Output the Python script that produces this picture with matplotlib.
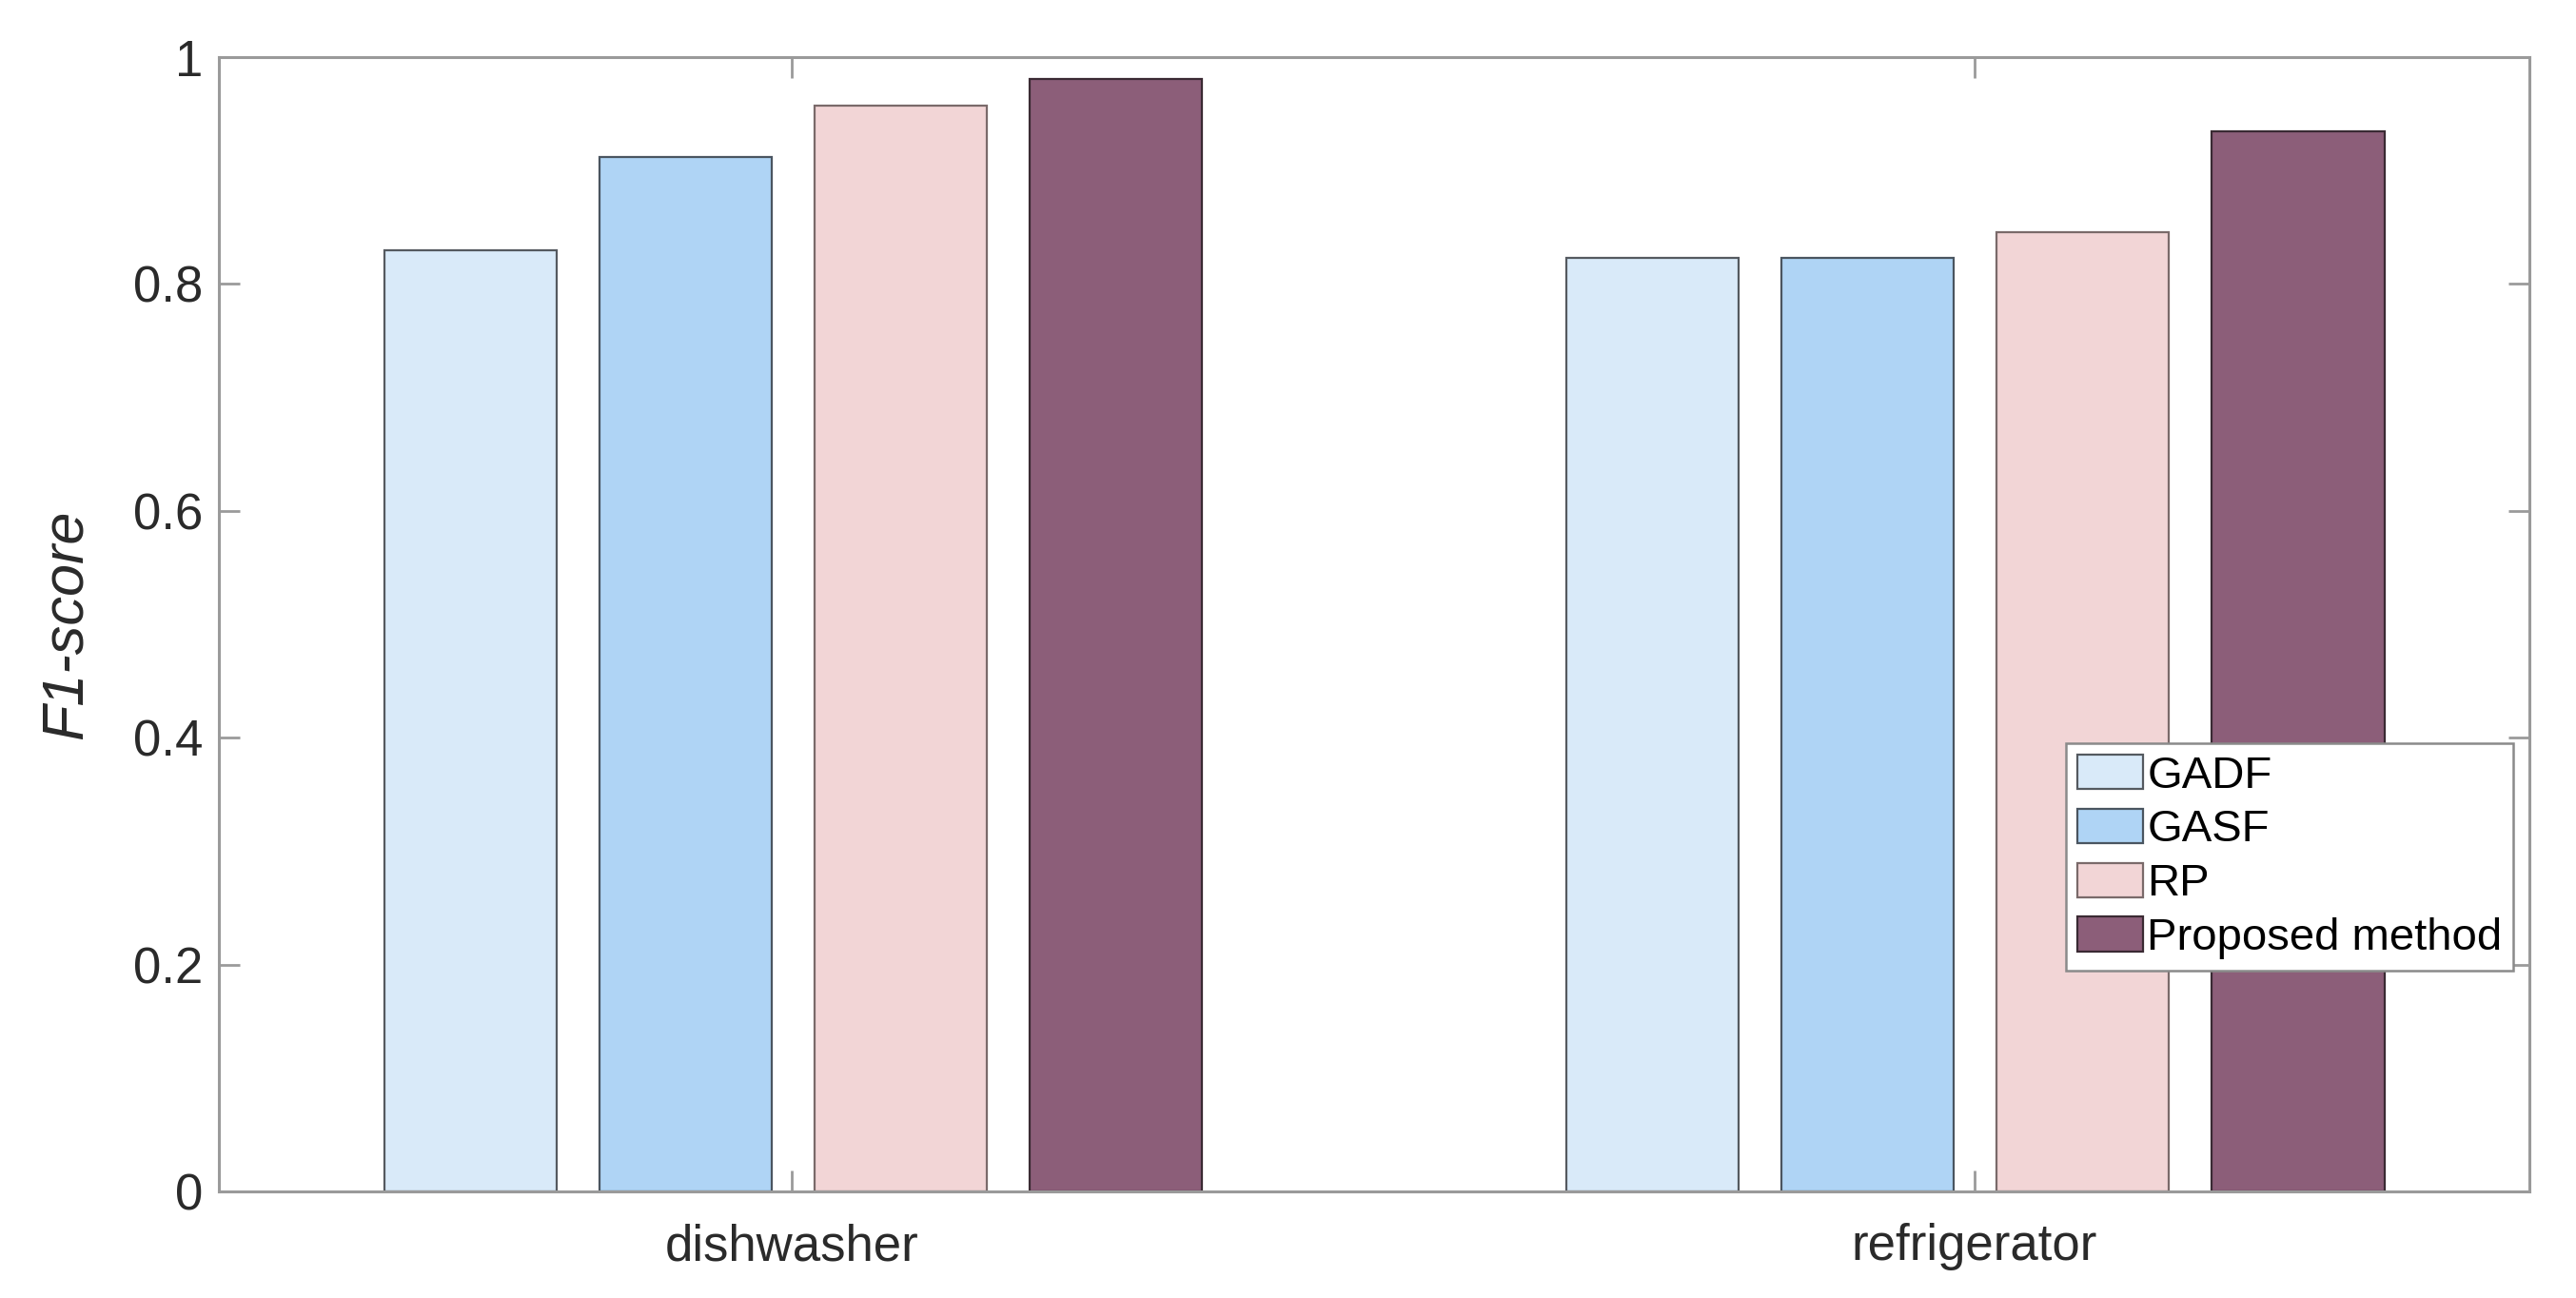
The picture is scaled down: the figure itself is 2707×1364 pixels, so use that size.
import numpy as np
import matplotlib.pyplot as plt

plt.rcParams["font.family"] = ["Liberation Sans", "DejaVu Sans"]

appliances = ["dishwasher", "refrigerator"]
methods = ["GADF", "GASF", "RP", "Proposed method"]
gadf = [0.830, 0.823]
gasf = [0.912, 0.823]
rp = [0.957, 0.846]
proposed = [0.981, 0.935]
yticks = [0, 0.2, 0.4, 0.6, 0.8, 1]
ytick_labels = ["0", "0.2", "0.4", "0.6", "0.8", "1"]

colors = ["#d9eaf9", "#afd4f5", "#f2d5d6", "#8c5e79"]
edges = ["#555a60", "#4a5560", "#7a6a6a", "#3a2a33"]

fig = plt.figure(figsize=(27.07, 13.64), dpi=100)
ax = fig.add_axes([0.085, 0.082, 0.897, 0.874])

x = np.arange(1, len(appliances) + 1)
offsets = [-0.272, -0.090, 0.092, 0.274]
width = 0.146
for vals, name, c, ec, off in zip([gadf, gasf, rp, proposed], methods, colors, edges, offsets):
    ax.bar(x + off, vals, width=width, color=c, edgecolor=ec, linewidth=1.6, label=name)

ax.set_xlim(0.515, 2.47)
ax.set_ylim(0, 1)
ax.set_xticks(x)
ax.set_xticklabels(appliances)
ax.set_yticks(yticks)
ax.set_yticklabels(ytick_labels)

axis_gray = "#9a9a9a"
for s in ax.spines.values():
    s.set_color(axis_gray)
    s.set_linewidth(2.2)
ax.tick_params(axis="both", direction="in", length=16, width=2, color=axis_gray,
               labelsize=38, labelcolor="#2a2a2a", top=True, right=True)
ax.tick_params(axis="x", pad=24)
ax.tick_params(axis="y", pad=12)

ax.set_ylabel("F1-score", fontsize=44, style="italic", color="#2a2a2a", labelpad=30)

leg = ax.legend(loc="lower left", bbox_to_anchor=(0.7995, 0.195), borderaxespad=0,
                fontsize=34, frameon=True, fancybox=False, framealpha=1,
                handlelength=1.45, handleheight=0.8, handletextpad=0.1,
                labelspacing=0.26, borderpad=0.25)
leg.get_frame().set_edgecolor("#8a8a8a")
leg.get_frame().set_linewidth(1.8)

fig.savefig("out.png", dpi=100)
